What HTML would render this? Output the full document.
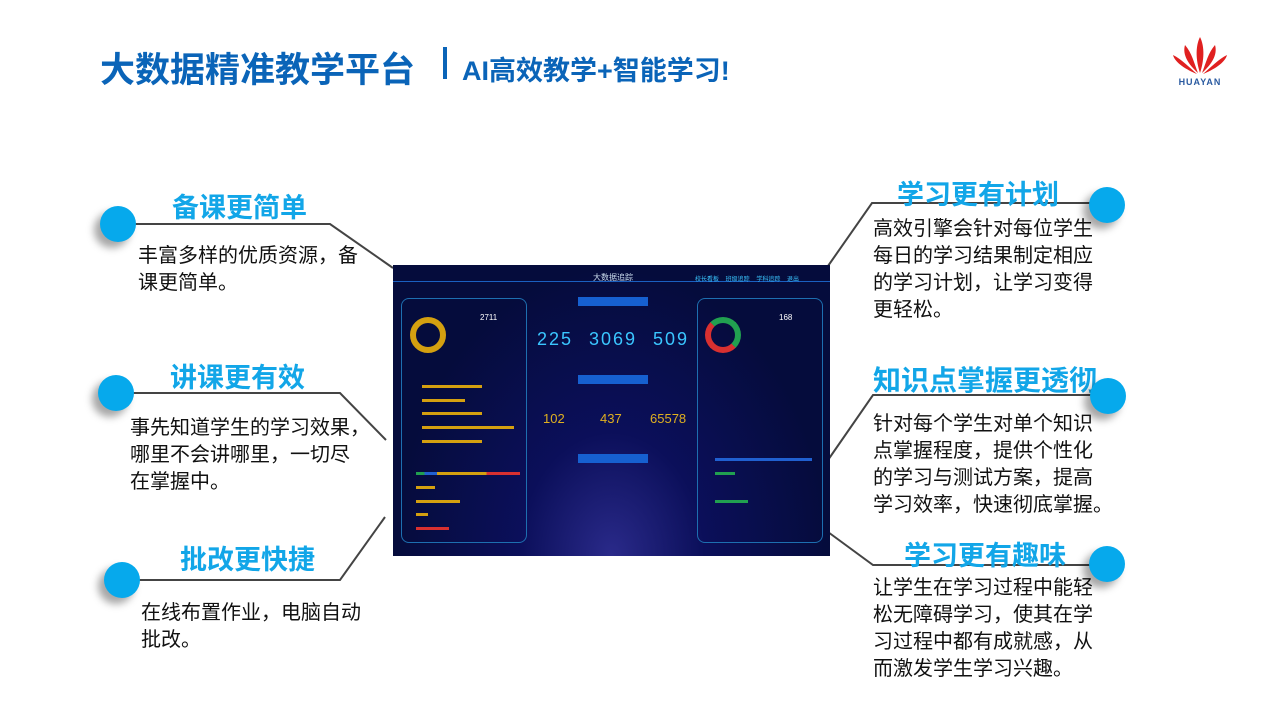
<!DOCTYPE html>
<html><head><meta charset="utf-8"><style>
body{margin:0;width:1280px;height:720px;position:relative;background:#fff;overflow:hidden;font-family:"Liberation Sans","Noto Sans CJK SC",sans-serif}
.a{position:absolute;white-space:nowrap}
.h{color:#12a6e8;font-weight:bold;font-size:27px}
.t{font-size:20px;line-height:27px;color:#111}
.c{position:absolute;width:36px;height:36px;border-radius:50%;background:#06a9ec;box-shadow:-6px 6px 8px rgba(0,0,0,.35)}
.db{position:absolute;left:393px;top:265px;width:437px;height:291px;background:radial-gradient(ellipse at 50% 100%,#2a2a8a 0%,#0b0f5a 30%,#050c3c 70%);overflow:hidden;font-size:6px;color:#9ab}
.p{position:absolute;border:1px solid #1d6fb0;border-radius:8px}
.n{position:absolute;color:#3ac6ff;font-size:18px;letter-spacing:2px}
.y{position:absolute;color:#e0b020;font-size:13px}
.bar{position:absolute;height:3px}
</style></head><body>
<div class="a" style="left:100px;top:42px;font-size:35px;font-weight:bold;color:#0a64b8">大数据精准教学平台</div>
<div class="a" style="left:443px;top:47px;width:4px;height:32px;background:#0a64b8"></div>
<div class="a" style="left:462px;top:49px;font-size:27px;font-weight:bold;color:#0a64b8">AI高效教学+智能学习!</div>
<svg class="a" style="left:1165px;top:35px" width="70" height="52" viewBox="0 0 70 52">
<g fill="#e02020"><path d="M35 2 C30 12 31 26 35 38 C39 26 40 12 35 2Z"/><path d="M20 10 C17 20 24 30 33 38 C29 28 27 18 20 10Z"/><path d="M50 10 C53 20 46 30 37 38 C41 28 43 18 50 10Z"/><path d="M8 20 C10 28 22 35 32 39 C24 32 16 24 8 20Z"/><path d="M62 20 C60 28 48 35 38 39 C46 32 54 24 62 20Z"/></g>
<text x="35" y="50" font-size="9" font-weight="bold" fill="#2a5aa0" text-anchor="middle" font-family="Liberation Sans" letter-spacing="1">HUAYAN</text></svg>
<svg class="a" style="left:0;top:0" width="1280" height="720"><g stroke="#444" stroke-width="2" fill="none">
<polyline points="120,224 330,224 393,268"/><polyline points="118,393 340,393 386,440"/><polyline points="122,580 340,580 385,517"/>
<polyline points="1100,203 872,203 828,266"/><polyline points="1100,395 873,395 828,460"/><polyline points="1100,565 873,565 828,532"/></g></svg>
<div class="a h" style="left:172px;top:186px">备课更简单</div>
<div class="a t" style="left:138px;top:243px">丰富多样的优质资源，备<br>课更简单。</div>
<div class="a h" style="left:170px;top:356px">讲课更有效</div>
<div class="a t" style="left:130px;top:415px">事先知道学生的学习效果，<br>哪里不会讲哪里，一切尽<br>在掌握中。</div>
<div class="a h" style="left:180px;top:538px">批改更快捷</div>
<div class="a t" style="left:141px;top:600px">在线布置作业，电脑自动<br>批改。</div>
<div class="a h" style="left:897px;top:173px">学习更有计划</div>
<div class="a t" style="left:873px;top:216px">高效引擎会针对每位学生<br>每日的学习结果制定相应<br>的学习计划，让学习变得<br>更轻松。</div>
<div class="a h" style="left:873px;top:359px;font-size:28px">知识点掌握更透彻</div>
<div class="a t" style="left:873px;top:411px">针对每个学生对单个知识<br>点掌握程度，提供个性化<br>的学习与测试方案，提高<br>学习效率，快速彻底掌握。</div>
<div class="a h" style="left:904px;top:534px">学习更有趣味</div>
<div class="a t" style="left:873px;top:575px">让学生在学习过程中能轻<br>松无障碍学习，使其在学<br>习过程中都有成就感，从<br>而激发学生学习兴趣。</div>
<div class="c" style="left:100px;top:206px"></div><div class="c" style="left:98px;top:375px"></div><div class="c" style="left:104px;top:562px"></div>
<div class="c" style="left:1089px;top:187px"></div><div class="c" style="left:1090px;top:378px"></div><div class="c" style="left:1089px;top:546px"></div>
<div class="db">
<div class="a" style="left:0;top:16px;width:437px;height:1px;background:#1a5fc0"></div>
<div class="a" style="left:200px;top:7px;color:#cde;font-size:8px">大数据追踪</div>
<div class="a" style="left:302px;top:9px;color:#3ac6ff">校长看板 &nbsp;&nbsp; 班级追踪 &nbsp;&nbsp; 学科追踪 &nbsp;&nbsp; 退出</div>
<div class="p" style="left:8px;top:33px;width:124px;height:243px"></div>
<div class="p" style="left:304px;top:33px;width:124px;height:243px"></div>
<div class="a" style="left:185px;top:32px;width:70px;height:9px;background:#1660d0"></div>
<div class="a" style="left:185px;top:110px;width:70px;height:9px;background:#1660d0"></div>
<div class="a" style="left:185px;top:189px;width:70px;height:9px;background:#1660d0"></div>
<div class="a" style="left:17px;top:52px;width:24px;height:24px;border:6px solid #d4a010;border-radius:50%"></div>
<div class="a" style="left:312px;top:52px;width:24px;height:24px;border:6px solid #21a050;border-left-color:#d83030;border-bottom-color:#d83030;border-radius:50%"></div>
<div class="a" style="left:87px;top:48px;color:#fff;font-size:8px">2711</div>
<div class="a" style="left:386px;top:48px;color:#fff;font-size:8px">168</div>
<div class="n" style="left:144px;top:64px">225</div><div class="n" style="left:196px;top:64px">3069</div><div class="n" style="left:260px;top:64px">509</div>
<div class="y" style="left:150px;top:146px">102</div><div class="y" style="left:207px;top:146px">437</div><div class="y" style="left:257px;top:146px">65578</div>
<div class="bar" style="left:29px;top:120px;width:60px;background:#d4a010"></div>
<div class="bar" style="left:29px;top:134px;width:43px;background:#d4a010"></div>
<div class="bar" style="left:29px;top:147px;width:60px;background:#d4a010"></div>
<div class="bar" style="left:29px;top:161px;width:92px;background:#d4a010"></div>
<div class="bar" style="left:29px;top:175px;width:60px;background:#d4a010"></div>
<div class="bar" style="left:23px;top:207px;width:104px;background:linear-gradient(90deg,#21a050 8%,#2060d0 8% 20%,#d4a010 20% 68%,#d83030 68%)"></div>
<div class="bar" style="left:23px;top:221px;width:19px;background:#d4a010"></div>
<div class="bar" style="left:23px;top:235px;width:44px;background:#d4a010"></div>
<div class="bar" style="left:23px;top:248px;width:12px;background:#d4a010"></div>
<div class="bar" style="left:23px;top:262px;width:33px;background:#d83030"></div>
<div class="bar" style="left:322px;top:193px;width:97px;background:#2060d0"></div>
<div class="bar" style="left:322px;top:207px;width:20px;background:#21a050"></div>
<div class="bar" style="left:322px;top:235px;width:33px;background:#21a050"></div>
</div>
</body></html>
